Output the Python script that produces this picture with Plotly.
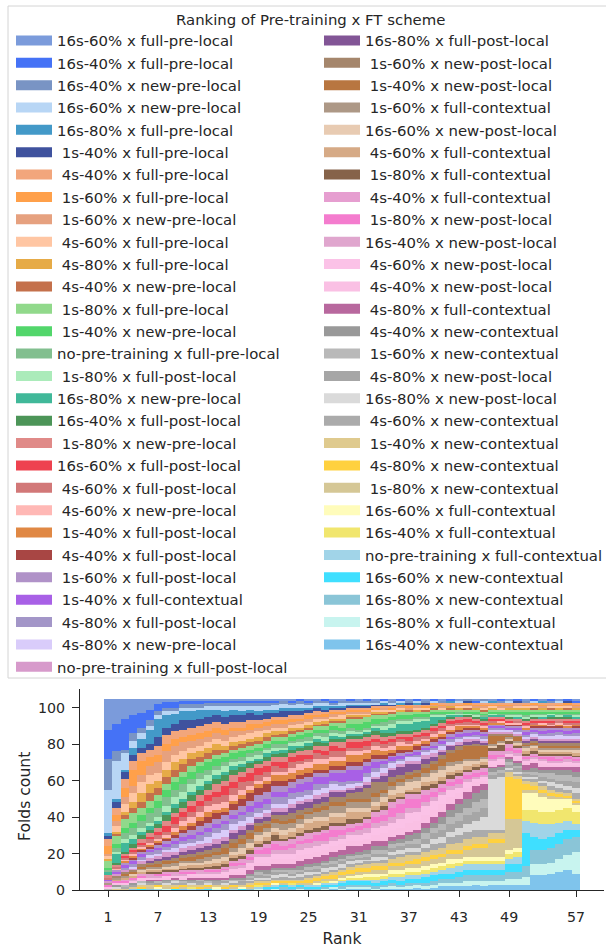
import plotly.graph_objects as go

# Pre-training x fine-tuning schemes, in ranking order (best mean rank first)
scheme_names = [
    "16s-60% x full-pre-local", "16s-40% x full-pre-local", "16s-40% x new-pre-local",
    "16s-60% x new-pre-local", "16s-80% x full-pre-local", " 1s-40% x full-pre-local",
    " 4s-40% x full-pre-local", " 1s-60% x full-pre-local", " 1s-60% x new-pre-local",
    " 4s-60% x full-pre-local", " 4s-80% x full-pre-local", " 4s-40% x new-pre-local",
    " 1s-80% x full-pre-local", " 1s-40% x new-pre-local", "no-pre-training x full-pre-local",
    " 1s-80% x full-post-local", "16s-80% x new-pre-local", "16s-40% x full-post-local",
    " 1s-80% x new-pre-local", "16s-60% x full-post-local", " 4s-60% x full-post-local",
    " 4s-60% x new-pre-local", " 1s-40% x full-post-local", " 4s-40% x full-post-local",
    " 1s-60% x full-post-local", " 1s-40% x full-contextual", " 4s-80% x full-post-local",
    " 4s-80% x new-pre-local", "no-pre-training x full-post-local",
    "16s-80% x full-post-local", " 1s-60% x new-post-local", " 1s-40% x new-post-local",
    " 1s-60% x full-contextual", "16s-60% x new-post-local", " 4s-60% x full-contextual",
    " 1s-80% x full-contextual", " 4s-40% x full-contextual", " 1s-80% x new-post-local",
    "16s-40% x new-post-local", " 4s-60% x new-post-local", " 4s-40% x new-post-local",
    " 4s-80% x full-contextual", " 4s-40% x new-contextual", " 1s-60% x new-contextual",
    " 4s-80% x new-post-local", "16s-80% x new-post-local", " 4s-60% x new-contextual",
    " 1s-40% x new-contextual", " 4s-80% x new-contextual", " 1s-80% x new-contextual",
    "16s-60% x full-contextual", "16s-40% x full-contextual", "no-pre-training x full-contextual",
    "16s-60% x new-contextual", "16s-80% x new-contextual", "16s-80% x full-contextual",
    "16s-40% x new-contextual",
]

scheme_colors = [
    "#7B9BDB", "#4572F6", "#7994C4", "#B8D6F5", "#4399C8", "#3F529E",
    "#F2A67C", "#FFA04A", "#E6A17F", "#FFC6A3", "#E6AB47", "#C4704B",
    "#91D98B", "#52D66B", "#82BF8F", "#ABEBBA", "#40B899", "#4C9558",
    "#E08A88", "#EE424F", "#D27878", "#FFB8B5", "#E08844", "#A84644",
    "#B092C8", "#A860E6", "#A396C8", "#D9CCFA", "#D79ACB",
    "#825596", "#A5866C", "#B87640", "#AD9886", "#E8CBB2", "#D6AA86",
    "#86634A", "#E69ED0", "#F47CCE", "#E0A6CE", "#FBC2E7", "#FAC0E4",
    "#B8689E", "#999999", "#B9B9B9", "#A6A6A6", "#DADADA", "#ABABAB",
    "#DFCA8E", "#FFD13F", "#D5C796", "#FFFCBB", "#F1E66E", "#A1D4E8",
    "#3FDFFF", "#8AC5D7", "#C8F4EF", "#7FC4EC",
]

legend_title = "Ranking of Pre-training x FT scheme"
x_title = "Rank"
y_title = "Folds count"
ranks = list(range(1, 58))
rank_tick_values = [1, 7, 13, 19, 25, 31, 37, 43, 49, 57]
count_tick_values = [0, 20, 40, 60, 80, 100]

# Number of folds in which each scheme (legend order) obtained the given rank
rank_01 = [17,16,17,24,1,2, 4,4,1,2,1,0, 4,1,1,0,2,0, 1,0,1,0,0,0, 0,1,0,0,1,0, 0,0,1,0,0,0, 0,1,0,1,0,0, 0,1,0,0,0, 0,0,0,0,0, 0,0,0,0,0]
rank_02 = [14,15,5,21,2,3, 4,3,3,3,1,1, 5,2,2,1,5,1, 1,0,1,1,0,0, 1,1,0,0,1,0, 1,0,1,0,1,0, 0,1,0,0,1,0, 1,0,0,1,0, 1,0,0,0,0, 0,0,0,0,0]
rank_03 = [11,17,2,9,1,4, 5,5,4,4,2,2, 5,3,3,2,5,1, 1,1,1,1,1,0, 1,2,1,0,1,0, 1,1,1,0,1,0, 1,1,0,1,0,0, 0,1,0,0,1, 0,0,1,0,0, 0,0,0,0,0]
rank_04 = [9,10,4,4,4,3, 5,9,4,5,3,3, 5,3,4,2,3,2, 1,1,1,1,1,1, 1,2,1,1,1,0, 1,1,0,1,1,0, 0,1,1,0,1,0, 1,0,1,0,0, 1,0,0,0,0, 0,0,0,0,1]
rank_05 = [8,8,3,3,5,3, 4,8,4,6,5,3, 4,3,4,2,2,2, 2,1,1,1,1,1, 1,2,1,1,2,0, 1,1,1,1,1,0, 1,1,0,1,1,0, 0,1,0,1,0, 1,1,0,0,0, 0,1,0,0,0]
rank_06 = [6,6,3,2,8,3, 4,5,5,5,5,4, 4,3,5,2,2,2, 2,1,2,1,1,1, 1,1,2,1,2,1, 1,1,1,1,1,1, 1,0,1,1,0,1, 1,0,0,0,1, 1,0,1,0,0, 0,0,1,0,0]
rank_07 = [3,4,2,2,10,5, 5,4,6,4,4,4, 3,4,5,2,2,2, 2,2,2,1,1,1, 2,1,2,1,2,1, 2,1,1,1,1,1, 0,1,1,0,1,1, 0,1,1,0,0, 0,1,0,1,0, 1,0,0,0,0]
rank_08 = [2,3,2,2,7,4, 5,4,6,4,4,4, 3,4,5,3,2,3, 3,3,2,1,1,1, 2,1,2,1,3,1, 1,2,1,1,1,1, 1,1,0,1,1,0, 1,0,1,1,0, 1,0,1,0,0, 0,0,0,1,0]
rank_09 = [2,3,2,1,6,4, 4,4,5,4,4,4, 3,4,4,4,2,3, 2,4,2,2,2,1, 2,2,2,2,2,1, 2,1,2,1,1,1, 1,0,1,1,0,1, 0,1,0,1,1, 1,1,0,0,0, 0,1,0,0,0]
rank_10 = [1,2,2,2,5,5, 4,3,5,4,3,4, 3,4,4,4,2,3, 2,3,2,3,2,2, 2,2,2,2,2,2, 1,2,1,2,1,1, 1,1,1,1,1,0, 1,1,0,0,1, 0,1,1,0,0, 0,0,0,0,1]
rank_11 = [1,2,2,2,5,4, 4,3,4,3,3,4, 3,4,3,4,2,3, 3,3,3,3,2,2, 3,2,2,2,2,2, 2,2,1,1,2,1, 1,1,0,1,1,1, 1,0,1,1,0, 1,0,0,0,1, 1,0,0,0,0]
rank_12 = [1,2,2,1,5,4, 4,3,4,3,3,3, 2,4,3,4,2,3, 3,3,3,3,2,3, 3,2,3,2,2,2, 2,2,2,1,2,1, 1,0,1,1,1,1, 0,1,1,0,1, 1,1,0,0,0, 0,0,1,0,0]
rank_13 = [1,1,2,2,4,4, 4,3,3,3,3,3, 2,4,3,3,2,3, 3,3,3,3,3,3, 3,2,3,3,2,2, 2,2,2,2,1,1, 1,1,1,1,1,1, 1,1,0,1,0, 0,1,1,0,0, 0,1,0,0,0]
rank_14 = [1,1,2,2,3,4, 3,3,3,3,3,3, 2,4,2,3,2,3, 4,3,4,3,2,3, 3,2,3,3,3,2, 2,2,2,2,2,1, 1,1,1,1,1,1, 1,0,1,0,1, 1,0,0,1,0, 0,0,0,1,0]
rank_15 = [1,1,2,3,3,4, 3,3,3,3,2,2, 2,3,2,3,2,3, 3,5,4,3,2,2, 3,2,3,4,2,2, 2,3,2,2,2,1, 1,1,1,2,1,1, 0,1,1,1,0, 1,1,0,0,0, 0,0,0,0,1]
rank_16 = [1,1,2,2,3,4, 3,2,3,3,2,2, 2,3,2,2,2,3, 4,3,4,3,2,3, 3,2,3,3,2,3, 2,3,2,2,1,2, 1,2,1,2,2,1, 1,1,0,1,1, 0,1,1,0,0, 1,0,0,0,0]
rank_17 = [1,1,2,3,2,4, 3,2,2,3,2,2, 2,3,2,2,1,3, 3,3,4,3,2,4, 3,2,3,3,2,3, 2,3,2,3,1,2, 2,1,2,2,2,1, 1,1,1,0,1, 1,0,0,1,0, 0,1,0,0,0]
rank_18 = [1,1,2,2,2,4, 2,3,2,3,2,2, 2,2,2,2,1,3, 3,4,3,2,2,4, 3,3,3,3,1,3, 2,3,2,3,1,2, 2,1,2,2,2,2, 1,1,1,1,1, 1,1,1,0,0, 0,0,1,0,0]
rank_19 = [1,1,2,3,2,3, 2,2,2,3,2,2, 2,2,2,2,1,2, 2,4,3,2,2,4, 4,3,3,2,1,2, 2,3,2,3,2,1, 2,2,2,3,2,2, 1,2,1,1,1, 1,1,0,0,1, 1,0,0,1,0]
rank_20 = [1,1,2,2,2,3, 2,2,2,2,2,2, 2,2,1,2,2,2, 3,3,3,2,2,4, 4,3,3,2,2,2, 2,2,2,3,2,2, 2,3,2,3,2,2, 2,1,1,1,1, 1,1,1,0,0, 0,1,0,0,1]
rank_21 = [1,1,1,3,2,2, 2,2,2,2,2,1, 2,2,2,2,1,2, 3,2,3,2,3,3, 3,3,4,2,2,2, 2,2,3,2,2,3, 2,3,2,3,3,2, 1,1,2,1,1, 1,1,0,1,0, 1,1,0,1,0]
rank_22 = [1,0,2,2,2,3, 2,2,2,2,1,2, 2,2,2,1,2,2, 3,3,2,2,3,3, 3,3,4,2,2,2, 3,2,3,3,2,1, 3,2,2,3,3,2, 1,1,1,2,1, 1,1,1,0,0, 0,1,1,0,1]
rank_23 = [1,1,1,2,2,2, 2,2,1,2,2,1, 2,2,1,2,2,2, 2,3,3,3,3,2, 3,3,3,3,2,3, 3,2,3,2,3,1, 3,2,3,3,3,2, 1,2,1,1,1, 1,1,0,0,1, 1,1,0,0,1]
rank_24 = [0,1,2,2,2,2, 2,1,2,2,1,1, 2,2,2,2,1,2, 2,3,2,3,3,2, 3,4,3,2,2,3, 3,2,3,2,3,1, 3,2,3,3,3,3, 2,1,1,2,1, 1,1,1,0,0, 0,1,1,1,0]
rank_25 = [1,1,1,2,1,2, 1,2,2,1,2,1, 2,2,2,1,2,2, 3,2,2,3,3,2, 3,4,3,2,2,3, 2,1,3,2,4,2, 3,2,3,3,3,3, 1,2,1,2,1, 1,2,1,0,0, 1,1,0,0,1]
rank_26 = [1,0,1,2,1,2, 2,1,1,2,1,1, 2,2,1,2,2,2, 2,2,3,3,3,2, 2,4,3,3,2,3, 2,2,3,2,4,2, 2,3,3,3,3,3, 2,1,2,1,1, 1,2,1,1,0, 1,1,1,0,0]
rank_27 = [0,1,1,2,2,1, 1,2,1,1,2,1, 2,2,2,2,1,2, 3,2,2,3,3,2, 2,4,2,3,2,3, 2,2,4,2,3,2, 2,4,2,3,3,3, 1,1,2,2,1, 1,2,1,0,1, 1,1,1,1,0]
rank_28 = [1,1,1,1,1,1, 1,1,2,1,1,1, 2,2,2,1,2,2, 2,3,3,2,3,2, 2,4,2,3,1,3, 3,2,4,2,3,2, 2,4,2,3,3,3, 2,2,1,2,1, 2,2,1,1,0, 1,1,0,1,1]
rank_29 = [1,0,1,2,1,1, 1,1,1,2,1,1, 3,2,1,2,1,2, 3,2,3,2,3,2, 2,5,2,2,1,3, 3,2,4,2,3,2, 2,3,2,3,3,3, 2,1,2,2,1, 1,2,1,1,1, 1,2,1,1,0]
rank_30 = [0,1,1,1,1,1, 1,1,1,1,1,1, 3,2,2,1,1,2, 2,3,2,2,4,2, 2,6,2,2,1,2, 3,2,3,2,4,3, 2,2,2,3,3,4, 1,2,1,2,1, 2,2,1,1,1, 1,2,1,1,1]
rank_31 = [1,0,1,1,1,1, 1,1,1,1,1,1, 3,3,1,1,1,2, 2,3,2,2,4,2, 2,6,1,2,1,2, 4,2,3,2,4,2, 2,2,3,3,3,3, 2,1,1,2,1, 2,2,2,1,1, 1,2,1,1,1]
rank_32 = [0,1,1,1,1,1, 1,1,1,1,1,0, 3,3,1,1,1,2, 2,3,2,2,3,2, 2,4,2,3,1,2, 6,2,3,2,3,1, 2,3,3,3,3,3, 2,2,1,1,2, 2,2,1,2,1, 1,2,1,1,1]
rank_33 = [1,0,1,1,0,1, 1,1,0,1,1,1, 2,3,1,1,2,2, 2,2,2,2,3,2, 2,3,2,3,1,2, 6,2,3,2,2,1, 3,3,3,4,3,3, 2,2,2,2,1, 2,2,2,2,1, 2,2,1,1,0]
rank_34 = [0,1,0,1,1,1, 1,0,1,1,1,1, 2,2,2,2,2,2, 2,2,2,2,2,2, 1,2,2,3,1,4, 4,2,2,3,2,2, 3,3,3,4,4,3, 2,2,2,1,2, 2,2,2,1,2, 1,2,1,1,1]
rank_35 = [1,0,1,1,0,1, 1,1,0,1,0,1, 2,2,2,2,3,1, 2,2,2,2,2,1, 1,2,1,3,1,4, 3,2,2,3,2,2, 3,5,3,4,4,2, 2,2,2,2,2, 2,2,2,2,2, 1,2,2,1,1]
rank_36 = [0,1,0,1,1,0, 0,1,1,1,1,0, 2,2,1,2,4,1, 2,1,2,2,2,2, 1,2,1,2,1,5, 2,2,2,4,2,1, 3,5,3,5,4,2, 2,2,2,2,2, 3,2,2,2,2, 2,2,1,1,1]
rank_37 = [1,0,1,0,0,1, 1,1,1,0,0,1, 2,2,1,2,4,1, 2,2,2,1,2,1, 1,1,1,2,2,4, 2,2,2,4,1,1, 3,5,3,5,5,2, 3,2,2,2,2, 3,2,2,2,2, 2,2,2,1,1]
rank_38 = [0,1,0,1,1,0, 1,0,1,1,1,0, 1,2,1,2,4,1, 2,1,2,2,1,2, 1,2,1,2,2,3, 2,2,2,4,2,1, 3,5,2,5,5,2, 3,3,2,2,2, 2,3,2,2,2, 2,2,1,2,1]
rank_39 = [1,0,1,0,0,1, 1,1,0,1,0,1, 1,2,1,1,4,1, 2,1,2,1,2,1, 1,1,1,2,2,3, 2,3,2,3,2,2, 3,4,2,5,4,3, 3,3,3,2,2, 3,2,3,2,2, 2,3,2,1,1]
rank_40 = [0,1,0,1,0,0, 0,1,1,0,1,1, 1,1,1,1,4,1, 1,2,1,2,1,2, 2,1,1,2,2,2, 2,3,2,4,2,2, 2,3,2,5,4,3, 3,3,3,3,3, 3,2,3,2,2, 2,3,2,2,1]
rank_41 = [1,0,1,0,0,0, 1,1,1,1,0,0, 1,1,1,1,2,1, 2,1,2,1,2,1, 1,2,1,2,1,2, 2,4,2,4,2,2, 2,2,2,5,4,3, 4,3,4,3,3, 3,2,3,2,2, 2,3,2,2,2]
rank_42 = [0,1,0,0,1,0, 1,0,1,0,1,1, 1,1,0,1,1,1, 1,2,1,2,1,1, 2,1,2,1,1,2, 2,5,2,3,2,2, 2,2,2,4,4,3, 4,4,4,3,4, 3,2,3,3,2, 3,3,2,2,2]
rank_43 = [1,0,0,1,0,0, 1,1,0,1,1,0, 1,0,1,1,1,0, 2,1,1,1,2,1, 1,2,1,2,1,1, 2,6,2,3,2,1, 2,3,2,3,3,3, 5,4,4,4,4, 4,2,3,2,2, 3,3,3,2,2]
rank_44 = [0,0,1,0,0,1, 0,1,1,1,0,1, 1,1,0,1,0,1, 1,2,1,1,1,1, 2,1,1,1,2,1, 1,7,1,3,2,1, 2,2,2,3,2,4, 5,4,5,4,4, 4,2,4,2,2, 3,3,3,3,2]
rank_45 = [1,1,0,0,0,0, 1,1,1,0,1,0, 1,1,1,1,0,1, 1,1,1,1,1,1, 1,2,1,1,1,2, 1,7,1,2,1,2, 2,2,1,2,2,4, 5,5,5,5,4, 4,2,5,2,2, 3,3,3,2,3]
rank_46 = [0,0,1,1,0,0, 1,1,1,1,0,1, 1,1,1,0,1,1, 1,1,1,1,1,1, 1,1,2,1,1,1, 1,6,1,2,1,2, 2,2,1,2,2,3, 5,5,5,7,4, 4,2,5,2,2, 3,3,3,3,2]
rank_47 = [1,0,0,0,1,0, 1,1,0,1,1,0, 1,1,0,1,1,0, 1,1,1,0,1,0, 1,1,1,1,1,0, 1,5,1,1,0,2, 2,2,1,2,1,1, 2,2,2,28,2, 3,2,8,2,2, 3,3,3,2,3]
rank_48 = [0,1,1,0,0,0, 1,1,1,1,0,0, 1,1,1,0,1,0, 1,1,0,1,1,0, 1,1,1,1,1,0, 1,3,1,1,0,4, 2,1,1,2,1,1, 2,2,2,29,2, 3,2,8,2,2, 3,3,3,2,3]
rank_49 = [1,0,0,1,0,0, 1,1,1,0,1,0, 1,1,1,1,0,1, 1,1,0,1,0,1, 1,1,0,1,1,0, 1,1,1,1,0,2, 2,2,1,1,1,1, 2,1,2,1,1, 3,23,17,2,3, 3,4,4,3,3]
rank_50 = [0,1,0,0,0,1, 1,0,1,1,1,0, 1,1,1,1,1,0, 1,0,1,1,0,1, 1,1,1,1,1,0, 1,2,1,1,1,1, 1,2,1,2,1,1, 2,1,2,1,1, 2,22,16,2,3, 4,4,4,3,3]
rank_51 = [1,0,1,0,0,0, 1,1,0,1,1,0, 1,2,1,1,0,1, 1,1,1,1,1,0, 1,2,1,1,1,1, 1,1,1,2,1,1, 1,1,1,1,1,3, 1,1,2,1,1, 2,3,2,9,6, 7,18,6,4,3]
rank_52 = [0,1,0,1,0,0, 0,1,1,1,0,1, 1,1,1,1,0,1, 1,1,1,0,1,1, 1,1,1,2,1,1, 1,1,1,1,2,1, 1,1,1,1,1,3, 2,2,1,1,2, 2,2,2,9,7, 8,7,8,6,8]
rank_53 = [1,0,0,0,1,0, 1,1,1,0,1,0, 1,1,1,1,1,0, 1,1,0,1,1,1, 2,1,1,2,1,1, 2,1,1,1,1,1, 1,1,1,2,1,2, 2,2,2,1,2, 2,2,2,8,7, 8,6,8,6,8]
rank_54 = [0,1,1,0,0,0, 1,0,1,1,0,1, 1,1,0,1,1,1, 1,1,1,1,0,1, 1,2,1,2,1,1, 2,1,1,1,1,1, 1,2,1,1,1,2, 2,3,2,2,2, 2,1,2,7,7, 7,6,8,6,9]
rank_55 = [1,0,0,1,0,0, 1,1,0,1,1,0, 1,1,1,1,0,1, 1,0,1,1,1,1, 1,1,2,2,1,1, 2,1,1,1,1,1, 2,1,1,1,1,2, 3,3,2,2,2, 1,2,1,6,7, 6,6,8,7,10]
rank_56 = [0,1,0,0,0,1, 0,1,1,1,0,1, 1,1,1,0,1,1, 1,1,1,1,1,0, 2,1,1,2,1,1, 2,1,1,1,1,1, 1,1,2,1,1,2, 3,3,3,2,2, 1,1,1,5,7, 5,5,9,8,11]
rank_57 = [1,1,0,0,0,0, 1,1,1,0,1,0, 1,1,1,1,1,0, 1,1,1,0,1,1, 1,2,1,2,1,1, 2,1,1,2,1,1, 1,1,1,1,1,3, 3,3,3,3,3, 1,1,1,4,7, 3,4,8,12,9]

folds_per_rank = [
    rank_01, rank_02, rank_03, rank_04, rank_05, rank_06, rank_07, rank_08, rank_09, rank_10,
    rank_11, rank_12, rank_13, rank_14, rank_15, rank_16, rank_17, rank_18, rank_19, rank_20,
    rank_21, rank_22, rank_23, rank_24, rank_25, rank_26, rank_27, rank_28, rank_29, rank_30,
    rank_31, rank_32, rank_33, rank_34, rank_35, rank_36, rank_37, rank_38, rank_39, rank_40,
    rank_41, rank_42, rank_43, rank_44, rank_45, rank_46, rank_47, rank_48, rank_49, rank_50,
    rank_51, rank_52, rank_53, rank_54, rank_55, rank_56, rank_57,
]

n_schemes = len(scheme_names)
for pos, column in enumerate(folds_per_rank, start=1):
    if len(column) != n_schemes:
        raise ValueError(f"rank {pos}: {len(column)} values")

TEXT = "#262626"
FONT = "DejaVu Sans"
W, H = 606, 948
LEFT, RIGHT, TOP, BOTTOM = 80, 2, 689, 58
PLOT_W = W - LEFT - RIGHT
PLOT_H = H - TOP - BOTTOM


def paper_x(px):
    return (px - LEFT) / PLOT_W


def paper_y(py):
    return (H - BOTTOM - py) / PLOT_H


fig = go.Figure()

# Stacked bars: the last scheme sits at the bottom, the first one on top
for i in reversed(range(n_schemes)):
    fig.add_trace(go.Bar(
        x=ranks,
        y=[column[i] for column in folds_per_rank],
        width=1,
        name=scheme_names[i].strip(),
        marker=dict(color=scheme_colors[i], line=dict(width=0)),
        showlegend=False,
        hovertemplate="rank %{x}: %{y}<extra>%{fullData.name}</extra>",
    ))

# Legend entries, split over two columns (two legends side by side)
rows_per_column = 29
for i in range(n_schemes):
    label = scheme_names[i]
    if label.startswith(" "):
        label = "\u00a0" + label[1:]
    fig.add_trace(go.Scatter(
        x=[None], y=[None], mode="lines",
        line=dict(color=scheme_colors[i], width=10),
        name=label, hoverinfo="skip",
        legend="legend" if i < rows_per_column else "legend2",
    ))

legend_common = dict(
    orientation="v",
    xref="container", yref="container",
    xanchor="left", yanchor="top",
    y=1 - 24.2 / H,
    itemwidth=36,
    traceorder="normal",
    font=dict(family=FONT, size=14.9, color=TEXT),
    bgcolor="rgba(0,0,0,0)", borderwidth=0,
)

fig.update_layout(
    width=W, height=H,
    margin=dict(l=LEFT, r=RIGHT, t=TOP, b=BOTTOM, autoexpand=False),
    paper_bgcolor="white", plot_bgcolor="white",
    barmode="stack", bargap=0,
    font=dict(family=FONT, color=TEXT),
    showlegend=True,
    legend=dict(x=11 / W, **legend_common),
    legend2=dict(x=319 / W, **legend_common),
    shapes=[dict(
        type="rect", xref="paper", yref="paper",
        x0=paper_x(8), x1=paper_x(614), y0=paper_y(678), y1=paper_y(6),
        line=dict(color="#d4d4d4", width=1), fillcolor="rgba(0,0,0,0)",
        layer="below",
    )],
    annotations=[
        dict(
            text=legend_title, xref="paper", yref="paper",
            x=paper_x(310), y=paper_y(20), xanchor="center", yanchor="middle",
            showarrow=False, font=dict(family=FONT, size=14.9, color=TEXT),
        ),
        # y-axis title, vertical, to the left of the tick labels
        dict(
            text=y_title, xref="paper", yref="paper",
            x=paper_x(25), y=paper_y(797), xanchor="center", yanchor="middle",
            textangle=-90, showarrow=False,
            font=dict(family=FONT, size=15.6, color=TEXT),
        ),
    ],
)
try:
    fig.update_layout(legend_maxheight=1, legend2_maxheight=1)
except ValueError:
    pass

axis_style = dict(
    showline=True, linecolor=TEXT, linewidth=1.25,
    ticks="outside", tickcolor=TEXT, tickwidth=1.25,
    showgrid=False, zeroline=False,
    tickfont=dict(family=FONT, size=14.2, color=TEXT),
)

fig.update_xaxes(
    range=[-2.35, 60.35], tickmode="array", tickvals=rank_tick_values,
    ticklen=6, ticklabelstandoff=8,
    title=dict(text=x_title, font=dict(family=FONT, size=15.6, color=TEXT), standoff=8),
    **axis_style,
)
fig.update_yaxes(
    range=[0, 110.25], tickmode="array", tickvals=count_tick_values,
    ticklen=7, ticklabelstandoff=4,
    **axis_style,
)

fig.write_html("out.html")
